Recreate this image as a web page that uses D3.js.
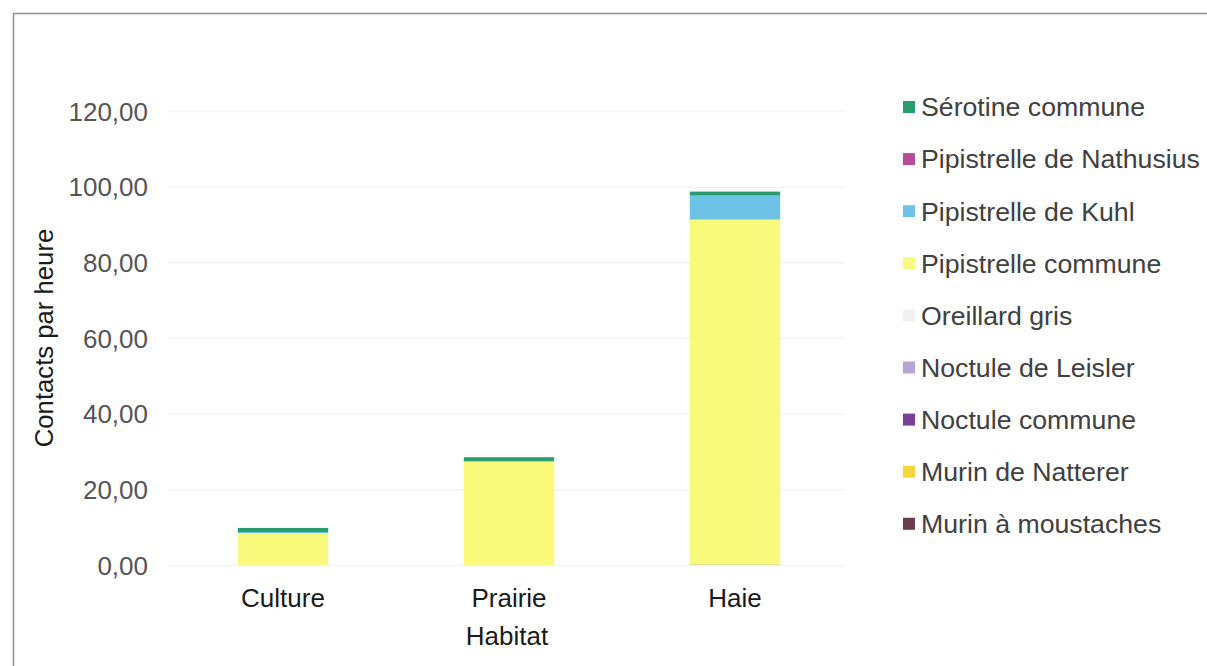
<!DOCTYPE html>
<html>
<head>
<meta charset="utf-8">
<script src="https://cdn.jsdelivr.net/npm/d3@7"></script>
<style>
  html, body { margin: 0; padding: 0; background: #fff; }
  svg { display: block; }
  text { font-family: "Liberation Sans", Arial, sans-serif; }
</style>
</head>
<body>
<svg id="chart" width="1207" height="666"></svg>
<script>
// Data
const categories = ["Culture", "Prairie", "Haie"];
const species = [
  "Murin à moustaches",
  "Murin de Natterer",
  "Noctule commune",
  "Noctule de Leisler",
  "Oreillard gris",
  "Pipistrelle commune",
  "Pipistrelle de Kuhl",
  "Pipistrelle de Nathusius",
  "Sérotine commune"
];
const murinMoustaches  = [0, 0, 0.1];
const murinNatterer    = [0, 0, 0];
const noctuleCommune   = [0, 0, 0];
const noctuleLeisler   = [0, 0, 0];
const oreillardGris    = [0, 0, 0];
const pipCommune       = [8.4, 27.3, 91.2];
const pipKuhl          = [0.3, 0.2, 6.3];
const pipNathusius     = [0, 0, 0.1];
const serotineCommune  = [1.1, 1.0, 1.0];
const seriesValues = [murinMoustaches, murinNatterer, noctuleCommune, noctuleLeisler,
  oreillardGris, pipCommune, pipKuhl, pipNathusius, serotineCommune];
const colors = ["#6e3d4c", "#f4d63e", "#7a3f98", "#b8a2d6", "#f1f1f1",
  "#f9f97c", "#6cc3e6", "#b44c98", "#2a9d6e"];
const yTicks = [0, 20, 40, 60, 80, 100, 120];
const yTitle = "Contacts par heure";
const xTitle = "Habitat";

(function () {
const svg = d3.select("#chart");

// chart border
svg.append("rect").attr("x", 13.5).attr("y", 13.5).attr("width", 1300).attr("height", 800)
  .attr("fill", "none").attr("stroke", "#8f8f8f").attr("stroke-width", 1.5);

const pLeft = 170, pRight = 848, pTop = 111, pBottom = 565;
const x = d3.scaleBand().domain(categories).range([pLeft, pRight]).paddingInner(0.6).paddingOuter(0.3);
const y = d3.scaleLinear().domain([0, 120]).range([pBottom, pTop]);

// gridlines
svg.append("g").selectAll("line").data(yTicks).join("line")
  .attr("x1", 168).attr("x2", 845)
  .attr("y1", d => y(d) + 0.5).attr("y2", d => y(d) + 0.5)
  .attr("stroke", "#f3f3f3").attr("stroke-width", 1.5);

// y axis labels
const yAxis = d3.axisLeft(y).tickValues(yTicks).tickSize(0).tickPadding(0)
  .tickFormat(d => d3.format(".2f")(d).replace(".", ","));
const gy = svg.append("g").attr("transform", "translate(148,0)").call(yAxis);
gy.select(".domain").remove();
gy.selectAll("text").attr("font-size", 26).attr("fill", "#555555")
  .attr("font-family", "Liberation Sans, Arial, sans-serif").attr("dy", "0.35em");

// stacked data
const table = categories.map((c, i) => {
  const o = { cat: c };
  species.forEach((s, k) => { o[s] = seriesValues[k][i]; });
  return o;
});
const stack = d3.stack().keys(species)(table);

svg.append("g").selectAll("g").data(stack).join("g")
  .attr("fill", (d, i) => colors[i])
  .selectAll("rect").data(d => d).join("rect")
  .attr("x", d => x(d.data.cat))
  .attr("width", x.bandwidth())
  .attr("y", d => y(d[1]))
  .attr("height", d => Math.max(0, y(d[0]) - y(d[1])));

// x axis labels
const xAxis = d3.axisBottom(x).tickSize(0).tickPadding(0);
const gx = svg.append("g").attr("transform", "translate(0,598)").call(xAxis);
gx.select(".domain").remove();
gx.selectAll("text").attr("font-size", 26).attr("fill", "#1a1a1a")
  .attr("font-family", "Liberation Sans, Arial, sans-serif").attr("dy", "0.35em");

// axis titles
svg.append("text").attr("x", 507).attr("y", 636).attr("dy", "0.35em")
  .attr("text-anchor", "middle").attr("font-size", 26).attr("fill", "#1a1a1a").text(xTitle);
svg.append("text").attr("transform", "translate(44,338) rotate(-90)").attr("dy", "0.35em")
  .attr("text-anchor", "middle").attr("font-size", 25.7).attr("fill", "#1a1a1a").text(yTitle);

// legend (reversed order, top = Sérotine)
const legendItems = species.map((s, i) => ({ name: s, color: colors[i] })).reverse();
const lg = svg.append("g").selectAll("g").data(legendItems).join("g")
  .attr("transform", (d, i) => `translate(903,${107 + i * 52.1})`);
lg.append("rect").attr("x", 0).attr("y", -6).attr("width", 12).attr("height", 12)
  .attr("fill", d => d.color);
lg.append("text").attr("x", 18).attr("dy", "0.35em").attr("font-size", 26.7)
  .attr("fill", "#404040").text(d => d.name);
})();
</script>
</body>
</html>
